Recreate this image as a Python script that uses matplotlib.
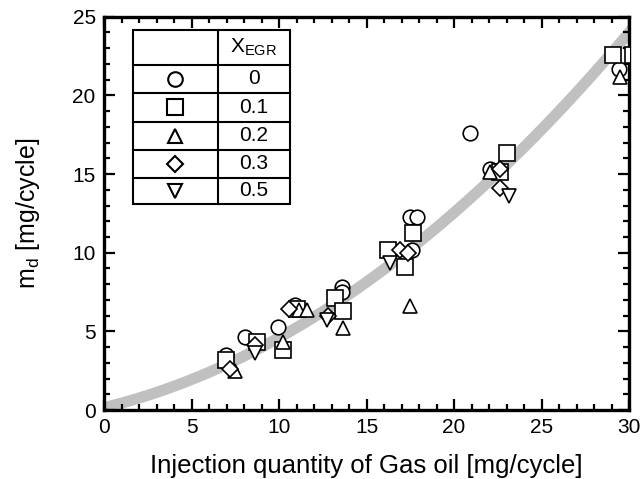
import numpy as np
import matplotlib
matplotlib.use('Agg')
import matplotlib.pyplot as plt
from matplotlib.ticker import MultipleLocator
from matplotlib.lines import Line2D

plt.rcParams['font.family'] = ['Liberation Sans', 'DejaVu Sans']
plt.rcParams['mathtext.fontset'] = 'custom'
plt.rcParams['mathtext.rm'] = 'Liberation Sans'

# measured points, one set per EGR rate
x_egr0 = [6.95, 8.06, 9.96, 10.9, 13.6, 13.6, 17.5, 17.86, 17.58, 20.9, 22.06, 29.4]
y_egr0 = [3.5, 4.65, 5.3, 6.7, 7.8, 7.5, 12.3, 12.3, 10.2, 17.6, 15.3, 21.7]

x_egr1 = [6.95, 8.72, 10.25, 11.0, 13.2, 13.68, 16.25, 17.2, 17.64, 22.63, 23.0, 29.1, 30.2]
y_egr1 = [3.2, 4.35, 3.8, 6.4, 7.1, 6.3, 10.2, 9.1, 11.25, 15.1, 16.35, 22.55, 22.6]

x_egr2 = [7.5, 10.25, 11.15, 11.6, 13.68, 17.49, 22.06, 29.5]
y_egr2 = [2.45, 4.35, 6.35, 6.35, 5.2, 6.6, 15.15, 21.2]

x_egr3 = [7.2, 8.63, 10.55, 12.8, 16.9, 17.39, 22.63, 22.63]
y_egr3 = [2.6, 4.15, 6.4, 6.0, 10.2, 10.0, 15.3, 14.1]

x_egr5 = [8.6, 12.72, 16.34, 23.16]
y_egr5 = [3.6, 5.75, 9.35, 13.6]

egr_labels = ['0', '0.1', '0.2', '0.3', '0.5']
egr_markers = ['o', 's', '^', 'D', 'v']

# fitted trend
fit_coef = [0.0175, 0.27, 0.15]
x_fit = np.linspace(0, 31, 200)
y_fit = np.polyval(fit_coef, x_fit)

fig = plt.figure(figsize=(6.42, 4.79), dpi=100)
ax = fig.add_axes([0.162, 0.144, 0.818, 0.821])

ax.plot(x_fit, y_fit, color='#c0c0c0', lw=8, solid_capstyle='butt', zorder=1)

series = [(x_egr0, y_egr0), (x_egr1, y_egr1), (x_egr2, y_egr2),
          (x_egr3, y_egr3), (x_egr5, y_egr5)]
sizes = {'o': 10.5, 's': 11, '^': 10.5, 'D': 8.5, 'v': 10.5}
for (xs, ys), m in zip(series, egr_markers):
    ax.plot(xs, ys, ls='none', marker=m, ms=sizes[m], mfc='white',
            mec='black', mew=1.2, zorder=3)

ax.set_xlim(0, 30)
ax.set_ylim(0, 25)
ax.xaxis.set_major_locator(MultipleLocator(5))
ax.xaxis.set_minor_locator(MultipleLocator(1))
ax.yaxis.set_major_locator(MultipleLocator(5))
ax.yaxis.set_minor_locator(MultipleLocator(1))
ax.tick_params(which='both', direction='in', top=True, right=True,
               labelsize=15, width=1.6, pad=6)
ax.tick_params(which='major', length=8)
ax.tick_params(which='minor', length=4)
for sp in ax.spines.values():
    sp.set_linewidth(2.4)

ax.set_xlabel('Injection quantity of Gas oil [mg/cycle]', fontsize=18.5, labelpad=12)
ax.set_ylabel(r'm$_\mathregular{d}$ [mg/cycle]', fontsize=18, labelpad=22)

# marker table in the upper left corner
tx0, tx1, tx2 = 0.055, 0.217, 0.354
row_y = [0.967, 0.878, 0.807, 0.733, 0.662, 0.590, 0.524]
tkw = dict(transform=ax.transAxes, color='black', lw=1.5, zorder=5)
ax.add_patch(plt.Rectangle((tx0, row_y[-1]), tx2 - tx0, row_y[0] - row_y[-1],
                           transform=ax.transAxes, fc='white', ec='black',
                           lw=1.5, zorder=4))
for yy in row_y[1:-1]:
    ax.add_line(Line2D([tx0, tx2], [yy, yy], **tkw))
ax.add_line(Line2D([tx1, tx1], [row_y[0], row_y[-1]], **tkw))
ax.text((tx1 + tx2) / 2, (row_y[0] + row_y[1]) / 2, r'X$_\mathregular{EGR}$',
        transform=ax.transAxes, ha='center', va='center', fontsize=15, zorder=6)
for i, (lab, m) in enumerate(zip(egr_labels, egr_markers)):
    yc = (row_y[i + 1] + row_y[i + 2]) / 2
    ax.plot([(tx0 + tx1) / 2], [yc], transform=ax.transAxes, marker=m,
            ms=sizes[m], mfc='white', mec='black', mew=1.5, ls='none', zorder=6)
    ax.text((tx1 + tx2) / 2, yc, lab, transform=ax.transAxes, ha='center',
            va='center', fontsize=15, zorder=6)

fig.savefig('out.png', dpi=100)
